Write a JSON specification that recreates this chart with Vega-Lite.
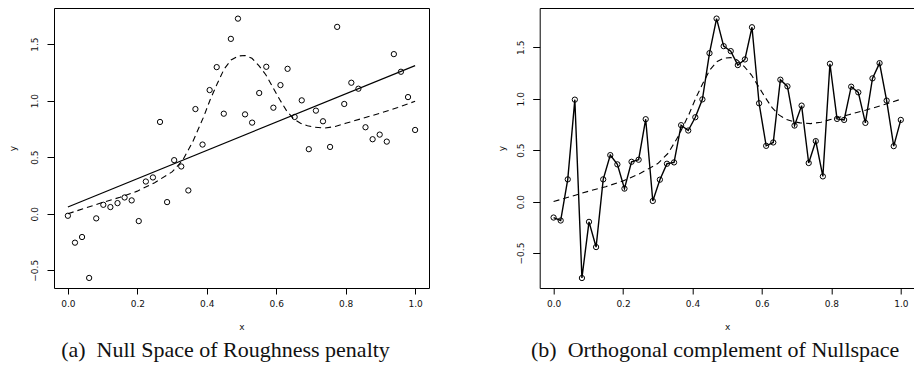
{
  "$schema": "https://vega.github.io/schema/vega-lite/v6.json",
  "padding": {"left": 7, "top": 7, "right": 0, "bottom": 0},
  "background": "white",
  "spacing": 110.7,
  "bounds": "flush",
  "config": {
    "view": {"stroke": "black", "strokeWidth": 1},
    "axis": {
      "domain": false, "grid": false, "tickColor": "black", "tickSize": 6,
      "labelFont": "DejaVu Sans", "labelFontSize": 9, "labelColor": "#111",
      "titleFont": "DejaVu Sans", "titleFontSize": 9, "titleFontWeight": "normal", "titleColor": "#111"
    },
    "title": {"font": "Liberation Serif", "fontSize": 22, "fontWeight": "normal", "color": "#111"}
  },
  "datasets": {
    "ptsA": [
      {"x": 0.0, "y": -0.018}, {"x": 0.0204, "y": -0.256}, {"x": 0.0408, "y": -0.206}, {"x": 0.0612, "y": -0.568}, {"x": 0.0816, "y": -0.041},
      {"x": 0.1020, "y": 0.079}, {"x": 0.1224, "y": 0.059}, {"x": 0.1429, "y": 0.094}, {"x": 0.1633, "y": 0.144}, {"x": 0.1837, "y": 0.118},
      {"x": 0.2041, "y": -0.065}, {"x": 0.2245, "y": 0.285}, {"x": 0.2449, "y": 0.321}, {"x": 0.2653, "y": 0.812}, {"x": 0.2857, "y": 0.103},
      {"x": 0.3061, "y": 0.474}, {"x": 0.3265, "y": 0.418}, {"x": 0.3469, "y": 0.206}, {"x": 0.3673, "y": 0.926}, {"x": 0.3878, "y": 0.612},
      {"x": 0.4082, "y": 1.094}, {"x": 0.4286, "y": 1.297}, {"x": 0.4490, "y": 0.885}, {"x": 0.4694, "y": 1.547}, {"x": 0.4898, "y": 1.726},
      {"x": 0.5102, "y": 0.879}, {"x": 0.5306, "y": 0.806}, {"x": 0.5510, "y": 1.068}, {"x": 0.5714, "y": 1.300}, {"x": 0.5918, "y": 0.938},
      {"x": 0.6122, "y": 1.138}, {"x": 0.6327, "y": 1.282}, {"x": 0.6531, "y": 0.856}, {"x": 0.6735, "y": 1.003}, {"x": 0.6939, "y": 0.571},
      {"x": 0.7143, "y": 0.912}, {"x": 0.7347, "y": 0.818}, {"x": 0.7551, "y": 0.591}, {"x": 0.7755, "y": 1.653}, {"x": 0.7959, "y": 0.971},
      {"x": 0.8163, "y": 1.159}, {"x": 0.8367, "y": 1.106}, {"x": 0.8571, "y": 0.765}, {"x": 0.8776, "y": 0.659}, {"x": 0.8980, "y": 0.700},
      {"x": 0.9184, "y": 0.638}, {"x": 0.9388, "y": 1.412}, {"x": 0.9592, "y": 1.256}, {"x": 0.9796, "y": 1.032}, {"x": 1.0, "y": 0.741}
    ],
    "ptsB": [
      {"x": 0.0, "y": -0.155}, {"x": 0.0204, "y": -0.184}, {"x": 0.0408, "y": 0.216}, {"x": 0.0612, "y": 0.991}, {"x": 0.0816, "y": -0.743},
      {"x": 0.1020, "y": -0.197}, {"x": 0.1224, "y": -0.442}, {"x": 0.1429, "y": 0.216}, {"x": 0.1633, "y": 0.452}, {"x": 0.1837, "y": 0.362},
      {"x": 0.2041, "y": 0.126}, {"x": 0.2245, "y": 0.387}, {"x": 0.2449, "y": 0.407}, {"x": 0.2653, "y": 0.801}, {"x": 0.2857, "y": 0.006},
      {"x": 0.3061, "y": 0.213}, {"x": 0.3265, "y": 0.368}, {"x": 0.3469, "y": 0.381}, {"x": 0.3673, "y": 0.743}, {"x": 0.3878, "y": 0.691},
      {"x": 0.4082, "y": 0.820}, {"x": 0.4286, "y": 0.994}, {"x": 0.4490, "y": 1.443}, {"x": 0.4694, "y": 1.779}, {"x": 0.4898, "y": 1.511},
      {"x": 0.5102, "y": 1.463}, {"x": 0.5306, "y": 1.327}, {"x": 0.5510, "y": 1.382}, {"x": 0.5714, "y": 1.695}, {"x": 0.5918, "y": 0.956},
      {"x": 0.6122, "y": 0.542}, {"x": 0.6327, "y": 0.575}, {"x": 0.6531, "y": 1.185}, {"x": 0.6735, "y": 1.120}, {"x": 0.6939, "y": 0.739},
      {"x": 0.7143, "y": 0.933}, {"x": 0.7347, "y": 0.375}, {"x": 0.7551, "y": 0.588}, {"x": 0.7755, "y": 0.245}, {"x": 0.7959, "y": 1.340},
      {"x": 0.8163, "y": 0.804}, {"x": 0.8367, "y": 0.794}, {"x": 0.8571, "y": 1.117}, {"x": 0.8776, "y": 1.062}, {"x": 0.8980, "y": 0.765},
      {"x": 0.9184, "y": 1.198}, {"x": 0.9388, "y": 1.346}, {"x": 0.9592, "y": 0.982}, {"x": 0.9796, "y": 0.539}, {"x": 1.0, "y": 0.794}
    ],
    "fitA": [{"x": 0.0, "y": 0.06}, {"x": 1.0, "y": 1.31}],
    "curve": [
      {"x": 0.0, "y": 0.0}, {"x": 0.05, "y": 0.05}, {"x": 0.10, "y": 0.10}, {"x": 0.15, "y": 0.145}, {"x": 0.20, "y": 0.20},
      {"x": 0.25, "y": 0.275}, {"x": 0.30, "y": 0.37}, {"x": 0.33, "y": 0.47}, {"x": 0.36, "y": 0.64}, {"x": 0.39, "y": 0.85},
      {"x": 0.41, "y": 1.01}, {"x": 0.43, "y": 1.15}, {"x": 0.45, "y": 1.28}, {"x": 0.47, "y": 1.36}, {"x": 0.49, "y": 1.395},
      {"x": 0.51, "y": 1.40}, {"x": 0.53, "y": 1.375}, {"x": 0.55, "y": 1.31}, {"x": 0.57, "y": 1.23}, {"x": 0.59, "y": 1.12},
      {"x": 0.61, "y": 1.01}, {"x": 0.63, "y": 0.91}, {"x": 0.65, "y": 0.84}, {"x": 0.67, "y": 0.80}, {"x": 0.69, "y": 0.778},
      {"x": 0.71, "y": 0.765}, {"x": 0.74, "y": 0.758}, {"x": 0.77, "y": 0.772}, {"x": 0.80, "y": 0.80}, {"x": 0.85, "y": 0.845},
      {"x": 0.90, "y": 0.89}, {"x": 0.95, "y": 0.94}, {"x": 1.0, "y": 0.995}
    ]
  },
  "hconcat": [
    {
      "width": 375, "height": 280,
      "title": {"text": "(a)\u00a0\u00a0Null Space of Roughness penalty", "orient": "bottom", "anchor": "middle", "frame": "group", "dx": -16, "offset": 9},
      "encoding": {
        "x": {"field": "x", "type": "quantitative", "scale": {"domain": [-0.04, 1.04], "nice": false, "zero": false},
              "axis": {"values": [0, 0.2, 0.4, 0.6, 0.8, 1.0], "format": ".1f", "title": "x", "labelPadding": 5, "titlePadding": 14}},
        "y": {"field": "y", "type": "quantitative", "scale": {"domain": [-0.657, 1.82], "nice": false, "zero": false},
              "axis": {"values": [-0.5, 0, 0.5, 1.0, 1.5], "format": ".1f", "title": "y", "labelAngle": -90, "tickSize": 7, "labelPadding": 8, "titlePadding": 13}}
      },
      "layer": [
        {"data": {"name": "fitA"}, "mark": {"type": "line", "color": "black", "strokeWidth": 1.2}},
        {"data": {"name": "curve"}, "mark": {"type": "line", "color": "black", "strokeWidth": 1.1, "strokeDash": [6, 4]}},
        {"data": {"name": "ptsA"}, "mark": {"type": "point", "shape": "circle", "filled": false, "color": "black", "size": 28, "strokeWidth": 1, "opacity": 1}}
      ]
    },
    {
      "width": 375, "height": 280,
      "title": {"text": "(b)\u00a0\u00a0Orthogonal complement of Nullspace", "orient": "bottom", "anchor": "middle", "frame": "group", "dx": -12, "offset": 9},
      "encoding": {
        "x": {"field": "x", "type": "quantitative", "scale": {"domain": [-0.04, 1.04], "nice": false, "zero": false},
              "axis": {"values": [0, 0.2, 0.4, 0.6, 0.8, 1.0], "format": ".1f", "title": "x", "labelPadding": 5, "titlePadding": 14}},
        "y": {"field": "y", "type": "quantitative", "scale": {"domain": [-0.84, 1.882], "nice": false, "zero": false},
              "axis": {"values": [-0.5, 0, 0.5, 1.0, 1.5], "format": ".1f", "title": "y", "labelAngle": -90, "tickSize": 7, "labelPadding": 7, "titlePadding": 10}}
      },
      "layer": [
        {"data": {"name": "curve"}, "mark": {"type": "line", "color": "black", "strokeWidth": 1.1, "strokeDash": [6, 4]}},
        {"data": {"name": "ptsB"}, "mark": {"type": "line", "color": "black", "strokeWidth": 1.4}},
        {"data": {"name": "ptsB"}, "mark": {"type": "point", "shape": "circle", "filled": false, "color": "black", "size": 28, "strokeWidth": 1, "opacity": 1}}
      ]
    }
  ]
}
